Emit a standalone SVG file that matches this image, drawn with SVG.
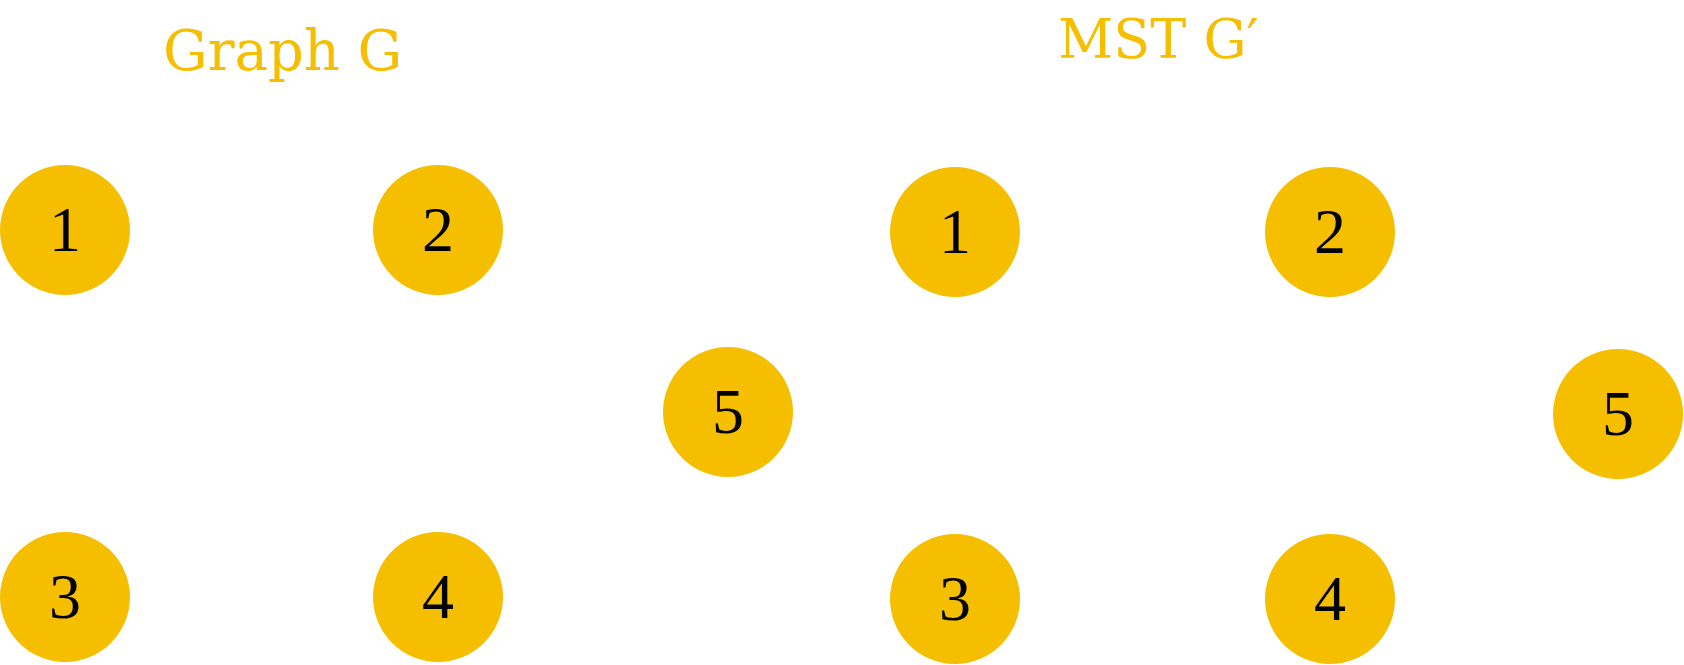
<svg xmlns="http://www.w3.org/2000/svg" width="1684" height="665" viewBox="0 0 1684 665">
  <style>
    .title { font-family: "DejaVu Serif", "Liberation Serif", serif; fill: #F5BF00; }
    .node circle { fill: #F5BF00; }
    .node text { font-family: "Liberation Serif", "Times New Roman", serif; font-size: 64px; fill: #000000; text-anchor: middle; }
    .edge { stroke: #FFFFFF; stroke-width: 2; fill: none; }
  </style>
  <rect x="0" y="0" width="1684" height="665" fill="#FFFFFF"/>

  <text class="title" x="163" y="70" font-size="56">Graph G</text>
  <text class="title" x="1058" y="58" font-size="54">MST G′</text>

  <g id="connectors">
    <line class="edge" x1="130" y1="230" x2="373" y2="230"/>
    <line class="edge" x1="65" y1="295" x2="65" y2="532"/>
    <line class="edge" x1="391.6" y1="275.6" x2="111.4" y2="551.4"/>
    <line class="edge" x1="438" y1="295" x2="438" y2="532"/>
    <line class="edge" x1="130" y1="597" x2="373" y2="597"/>
    <line class="edge" x1="493" y1="264.6" x2="672.9" y2="377.4"/>
    <line class="edge" x1="492.8" y1="562" x2="673.2" y2="447"/>
    <line class="edge" x1="1020" y1="232" x2="1265" y2="232"/>
    <line class="edge" x1="955" y1="297" x2="955" y2="534"/>
    <line class="edge" x1="1330" y1="297" x2="1330" y2="534"/>
    <line class="edge" x1="1385" y1="266.5" x2="1563" y2="379.5"/>
  </g>

  <g id="g1" class="node"><circle cx="65" cy="230" r="65"/><text x="65" y="251">1</text></g>
  <g id="g2" class="node"><circle cx="438" cy="230" r="65"/><text x="438" y="251">2</text></g>
  <g id="g5" class="node"><circle cx="728" cy="412" r="65"/><text x="728" y="433">5</text></g>
  <g id="g3" class="node"><circle cx="65" cy="597" r="65"/><text x="65" y="618">3</text></g>
  <g id="g4" class="node"><circle cx="438" cy="597" r="65"/><text x="438" y="618">4</text></g>

  <g id="m1" class="node"><circle cx="955" cy="232" r="65"/><text x="955" y="253">1</text></g>
  <g id="m2" class="node"><circle cx="1330" cy="232" r="65"/><text x="1330" y="253">2</text></g>
  <g id="m5" class="node"><circle cx="1618" cy="414" r="65"/><text x="1618" y="435">5</text></g>
  <g id="m3" class="node"><circle cx="955" cy="599" r="65"/><text x="955" y="620">3</text></g>
  <g id="m4" class="node"><circle cx="1330" cy="599" r="65"/><text x="1330" y="620">4</text></g>
</svg>
